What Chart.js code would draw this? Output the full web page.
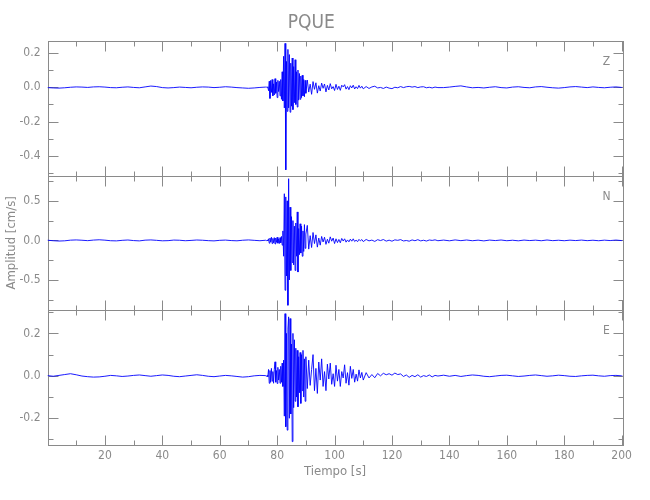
<!DOCTYPE html>
<html>
<head>
<meta charset="utf-8">
<script src="https://cdn.jsdelivr.net/npm/chart.js"></script>
<style>
  body { margin: 0; background: #fff; }
  #wrap { width: 650px; height: 500px; }
</style>
</head>
<body>
<div id="wrap"><canvas id="sismo" width="650" height="500"></canvas></div>
<script>
// tiempo de muestreo [s]
const tiempo = [
  0, 2, 4, 6, 8, 10, 12, 14, 16, 18, 20, 22, 24, 26, 28, 30, 32, 34, 36, 38,
  40, 42, 44, 46, 48, 50, 52, 54, 56, 58, 60, 62, 64, 66, 68, 70, 72, 74, 76,
  76.25, 76.5, 76.75, 77, 77.25, 77.5, 77.75, 78, 78.25, 78.5, 78.75, 79,
  79.25, 79.5, 79.75, 80, 80.25, 80.5, 80.75, 81, 81.25, 81.5, 81.75, 82,
  82.25, 82.5, 82.75, 83, 83.25, 83.5, 83.75, 84, 84.25, 84.5, 84.75, 85,
  85.25, 85.5, 85.75, 86, 86.25, 86.5, 86.75, 87, 87.25, 87.5, 87.75, 88,
  88.25, 88.5, 88.75, 89, 89.25, 89.5, 89.75, 90,
  90.5, 91, 91.5, 92, 92.5, 93, 93.5, 94, 94.5, 95, 95.5, 96, 96.5, 97, 97.5,
  98, 98.5, 99, 99.5, 100, 100.5, 101, 101.5, 102, 102.5, 103, 103.5, 104,
  104.5, 105, 105.5, 106, 106.5, 107, 107.5, 108, 108.5, 109, 109.5, 110,
  111, 112, 113, 114, 115, 116, 117, 118, 119, 120, 121, 122, 123, 124, 125,
  126, 127, 128, 129, 130, 131, 132, 133, 134, 135, 136,
  138, 140, 142, 144, 146, 148, 150, 152, 154, 156, 158, 160, 162, 164, 166,
  168, 170, 172, 174, 176, 178, 180, 182, 184, 186, 188, 190, 192, 194, 196,
  198, 200, 200.3
];

// componente vertical Z [cm/s]
const ampZ = [
  -0.002, -0.004, -0.005, -0.003, 0, 0.002, 0.001, -0.001, 0.002, 0.003,
  0.001, -0.002, -0.003, 0, 0.002, -0.001, -0.003, 0.002, 0.007, 0.004,
  -0.002, -0.004, -0.002, 0.001, -0.001, -0.003, 0, 0.002, 0.001, -0.002,
  0, 0.003, 0.001, -0.002, -0.004, -0.006, -0.004, -0.001, 0.001,
  0.001, -0.002, 0.003, -0.02, 0.035, -0.065, 0.04, -0.03,
  0.045, -0.05, 0.02, -0.045, 0.05, -0.035, 0.03, -0.06,
  0.04, -0.025, 0.035, -0.05, 0.045, -0.07, 0.09, -0.08,
  0.18, -0.12, 0.255, -0.48, 0.15, -0.14, 0.22, -0.12,
  0.19, -0.145, 0.14, -0.11, 0.17, -0.13, 0.12, -0.09,
  0.16, -0.1, 0.09, -0.115, 0.1, -0.075, 0.08, -0.07,
  0.065, -0.06, 0.07, -0.05, 0.045, -0.055, 0.04, -0.035,
  0.042, -0.028, 0.018, -0.041, 0.033, -0.012, 0.026, -0.034, 0.009, -0.022,
  0.024, -0.006, 0.019, -0.027, 0.011, -0.016, 0.021, -0.009, 0.004, -0.019,
  0.017, -0.013, 0.006, -0.018, 0.012, 0.002, 0.015, -0.011, 0.004, -0.014,
  0.009, -0.004, 0.012, -0.01, 0.003, -0.008, 0.011, -0.005, 0.006, -0.009,
  0.004, -0.007, 0.002, 0.006, -0.004, -0.001, -0.007, 0.001, -0.005, -0.008,
  0, -0.003, 0.004, -0.002, 0.003, 0.005, 0.001, 0.004, -0.002, 0.002,
  0.003, -0.003, 0, -0.004, 0.001, -0.002,
  -0.002, 0.001, 0.005, 0.008, 0.002, -0.003, -0.001, -0.004, 0, 0.003,
  -0.002, -0.004, 0.001, 0.003, -0.001, -0.003, 0.002, 0.004, 0, -0.003,
  -0.005, -0.002, 0.002, 0.004, 0.001, -0.002, 0.002, -0.001, -0.003, 0,
  0.002, -0.001, 0
];

// componente norte N [cm/s]
const ampN = [
  0.002, -0.004, -0.008, -0.005, 0.003, 0.006, 0.002, -0.003, 0.004, 0.008,
  0.003, -0.004, -0.006, 0.001, 0.005, -0.002, -0.006, 0.003, 0.006, 0.001,
  -0.005, -0.003, 0.004, 0.002, -0.004, 0, 0.005, 0.002, -0.003, -0.006,
  0.001, 0.004, -0.002, -0.005, 0.002, 0.006, 0.001, -0.004, 0.002,
  -0.003, 0.004, -0.006, 0.02, -0.035, 0.03, -0.02, 0.04,
  -0.04, 0.025, -0.03, 0.035, -0.045, 0.03, -0.025, 0.04,
  -0.035, 0.02, -0.04, 0.035, -0.03, 0.05, -0.06, 0.12,
  -0.2, 0.59, -0.63, 0.55, -0.45, 0.5, -0.82, 0.78,
  -0.5, 0.42, -0.38, 0.3, -0.28, 0.25, -0.31, 0.18,
  -0.38, 0.22, -0.2, 0.36, -0.4, 0.15, -0.18, 0.21,
  -0.16, 0.18, -0.2, 0.12, -0.14, 0.2, -0.1, 0.08,
  0.19, -0.11, 0.06, -0.09, 0.1, -0.04, 0.07, -0.085, 0.03, -0.06,
  0.05, -0.02, 0.04, -0.05, 0.015, -0.035, 0.045, -0.01, 0.03, -0.04,
  0.02, -0.028, 0.012, -0.03, 0.025, -0.008, 0.02, -0.022, 0.006, -0.018,
  0.016, -0.01, 0.02, -0.014, 0.004, -0.016, 0.013, -0.006, 0.011, -0.015,
  0.012, -0.006, 0.004, -0.013, 0.009, -0.002, 0.011, -0.009, 0.003, -0.01,
  0.007, 0.001, 0.01, -0.007, -0.001, -0.01, 0.006, -0.004, 0.009, -0.006,
  0.002, -0.008, 0.005, 0, 0.007, -0.004,
  0.004, -0.005, 0.006, -0.003, 0.005, -0.004, 0.003, -0.006, 0.004, -0.002,
  0.005, -0.004, 0.002, -0.005, 0.004, -0.002, 0.003, -0.004, 0.005, -0.003,
  0.002, -0.004, 0.003, -0.002, 0.004, -0.003, 0.002, -0.004, 0.003, -0.002,
  0.004, -0.002, 0
];

// componente este E [cm/s]
const ampE = [
  0.001, -0.002, 0.002, 0.006, 0.01, 0.005, -0.001, -0.004, -0.006, -0.005,
  -0.002, 0.002, 0, -0.003, -0.001, 0.002, 0.004, 0.001, -0.002, 0.001,
  0.004, 0.002, -0.002, -0.004, -0.001, 0.002, 0.005, 0.002, -0.002, -0.004,
  -0.001, 0.002, 0, -0.003, -0.006, -0.004, 0, 0.002, 0.001,
  -0.003, 0.002, -0.004, 0.03, -0.035, 0.025, -0.03, 0.035,
  -0.025, 0.02, -0.035, 0.03, 0.066, -0.03, 0.025, -0.036,
  0.04, -0.02, 0.03, -0.035, 0.045, -0.03, 0.06, -0.05,
  0.074, -0.19, 0.293, -0.24, 0.2, -0.256, 0.22, 0.278,
  -0.2, 0.27, -0.18, 0.15, -0.31, 0.2, -0.15, 0.17,
  -0.12, 0.13, -0.1, 0.12, -0.146, 0.09, -0.08, 0.11,
  -0.13, 0.1, -0.07, 0.12, -0.1, 0.08, -0.12, 0.09,
  -0.06, 0.074, -0.045, 0.03, 0.1, -0.07, 0.035, -0.083, 0.065, -0.02,
  0.08, -0.05, 0.02, -0.07, 0.055, -0.015, 0.06, -0.04, 0.01, -0.05,
  0.05, -0.025, 0.03, -0.05, 0.02, -0.01, 0.052, -0.035, 0.015, -0.044,
  0.045, -0.012, 0.03, -0.03, 0.008, -0.025, 0.028, -0.01, 0.016, -0.02,
  0.015, -0.01, 0.006, -0.009, 0.011, 0, 0.012, 0.005, 0.01, 0.003,
  0.013, 0.006, 0.009, -0.003, 0.004, -0.007, 0.002, -0.004, 0.005, -0.006,
  0.001, -0.003, 0.004, -0.005, 0.002, -0.001,
  0.003, -0.002, 0.002, -0.003, 0.001, 0.004, 0.002, -0.002, -0.004, -0.001,
  0.002, 0.003, 0, -0.003, -0.001, 0.002, 0.004, 0.001, -0.002, 0,
  0.003, 0.001, -0.002, -0.003, 0, 0.002, 0.003, 0, -0.002, 0.001,
  0.002, 0, 0.001
];

const canales = ["Z", "N", "E"];

// marcas de los ejes
const ticksX = [20, 40, 60, 80, 100, 120, 140, 160, 180, 200];
const minorX = [10, 30, 50, 70, 90, 110, 130, 150, 170, 190];
const ticksZ = [-0.4, -0.2, 0.0, 0.2];
const minorZ = [-0.5, -0.3, -0.1, 0.1];
const ticksN = [-0.5, 0.0, 0.5];
const minorN = [-0.75, -0.25, 0.25, 0.75];
const ticksE = [-0.2, 0.0, 0.2];
const minorE = [-0.3, -0.1, 0.1, 0.3];

// limites de cada panel
const rangoX = [0, 200.3];
const rangoZ = [-0.513, 0.27];
const rangoN = [-0.883, 0.82];
const rangoE = [-0.326, 0.309];

const gris = "#8a8a8a";
const fuente = "'Liberation Sans Narrow', 'DejaVu Sans Condensed', 'Liberation Sans', sans-serif";

const paneles = [
  { id: "yZ", nombre: canales[0], datos: ampZ, ticks: ticksZ, minor: minorZ, rango: rangoZ, peso: 3 },
  { id: "yN", nombre: canales[1], datos: ampN, ticks: ticksN, minor: minorN, rango: rangoN, peso: 2 },
  { id: "yE", nombre: canales[2], datos: ampE, ticks: ticksE, minor: minorE, rango: rangoE, peso: 1 },
];

const etiqueta = (v) => (v < 0 ? "-" : "") + Math.abs(v).toFixed(1);
const px = (v) => Math.round(v) + 0.5;

const escalas = {
  x: {
    type: "linear",
    position: "bottom",
    min: rangoX[0],
    max: rangoX[1],
    grid: { display: false, drawTicks: false },
    border: { display: false },
    afterBuildTicks: (s) => { s.ticks = ticksX.map((v) => ({ value: v })); },
    afterFit: (s) => { s.height = 55; },
    ticks: {
      color: gris,
      font: { family: fuente, size: 12 },
      padding: 4,
      maxRotation: 0,
      autoSkip: false,
    },
    title: {
      display: true,
      text: "Tiempo [s]",
      color: gris,
      font: { family: fuente, size: 13 },
      padding: { top: 0, bottom: 21 },
    },
  },
};

paneles.forEach((p) => {
  escalas[p.id] = {
    type: "linear",
    position: "left",
    stack: "sismo",
    stackWeight: 1,
    weight: p.peso,
    min: p.rango[0],
    max: p.rango[1],
    grid: { display: false, drawTicks: false },
    border: { display: false },
    afterBuildTicks: (s) => { s.ticks = p.ticks.map((v) => ({ value: v })); },
    afterFit: (s) => { s.width = 47.5; },
    ticks: {
      color: gris,
      font: { family: fuente, size: 12 },
      padding: 7,
      autoSkip: false,
      callback: (v) => etiqueta(v),
    },
    title: {
      display: p.nombre === "N",
      text: "Amplitud [cm/s]",
      color: gris,
      font: { family: fuente, size: 13 },
      padding: { top: 4, bottom: 0 },
    },
  };
});

// marcos y marcas hacia adentro, estilo IDL
const marcos = {
  id: "marcos",
  beforeDatasetsDraw(chart) {
    const ctx = chart.ctx;
    const sx = chart.scales.x;
    const l = px(chart.chartArea.left);
    const r = px(chart.chartArea.right);
    ctx.save();
    ctx.strokeStyle = gris;
    ctx.lineWidth = 1;
    paneles.forEach((p) => {
      const sy = chart.scales[p.id];
      const t = px(sy.top);
      const b = px(sy.bottom);
      ctx.strokeRect(l, t, r - l, b - t);
      ctx.beginPath();
      ticksX.forEach((v) => {
        const xx = px(sx.getPixelForValue(v));
        ctx.moveTo(xx, b); ctx.lineTo(xx, b - 10);
        ctx.moveTo(xx, t); ctx.lineTo(xx, t + 10);
      });
      minorX.forEach((v) => {
        const xx = px(sx.getPixelForValue(v));
        ctx.moveTo(xx, b); ctx.lineTo(xx, b - 5);
        ctx.moveTo(xx, t); ctx.lineTo(xx, t + 5);
      });
      p.ticks.forEach((v) => {
        const yy = px(sy.getPixelForValue(v));
        ctx.moveTo(l, yy); ctx.lineTo(l + 10, yy);
        ctx.moveTo(r, yy); ctx.lineTo(r - 10, yy);
      });
      p.minor.forEach((v) => {
        const yy = px(sy.getPixelForValue(v));
        ctx.moveTo(l, yy); ctx.lineTo(l + 5, yy);
        ctx.moveTo(r, yy); ctx.lineTo(r - 5, yy);
      });
      ctx.stroke();
    });
    ctx.restore();
  },
  afterDraw(chart) {
    const ctx = chart.ctx;
    ctx.save();
    ctx.fillStyle = gris;
    ctx.font = "12px " + fuente;
    ctx.textAlign = "center";
    ctx.textBaseline = "middle";
    paneles.forEach((p) => {
      const sy = chart.scales[p.id];
      ctx.fillText(p.nombre, chart.chartArea.right - 16, sy.top + 21);
    });
    ctx.restore();
  },
};

new Chart(document.getElementById("sismo"), {
  type: "line",
  data: {
    datasets: paneles.map((p) => ({
      label: p.nombre,
      data: tiempo.map((t, i) => ({ x: t, y: p.datos[i] })),
      yAxisID: p.id,
      borderColor: "#0000ff",
      borderWidth: 0.9,
      pointRadius: 0,
      fill: false,
      tension: 0,
    })),
  },
  options: {
    responsive: false,
    animation: false,
    parsing: false,
    normalized: true,
    layout: { padding: { left: 0, right: 27.5, top: 0, bottom: 0 } },
    scales: escalas,
    plugins: {
      legend: { display: false },
      tooltip: { enabled: false },
      title: {
        display: true,
        text: "PQUE",
        color: gris,
        font: { family: fuente, size: 19, weight: "normal" },
        padding: { top: 12, bottom: 6 },
      },
    },
  },
  plugins: [marcos],
});
</script>
</body>
</html>
